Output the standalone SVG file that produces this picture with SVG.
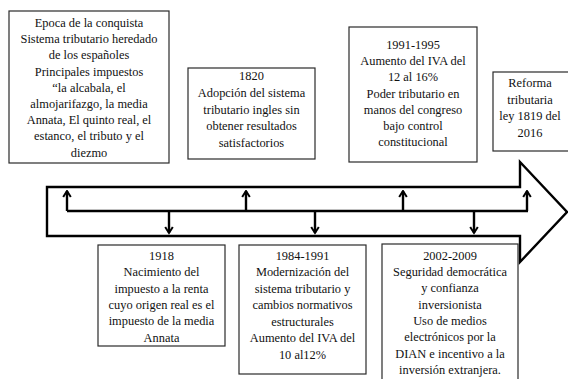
<svg xmlns="http://www.w3.org/2000/svg" width="568" height="379" viewBox="0 0 568 379">
<style>
.box{fill:#fff;stroke:#2a2a2a;stroke-width:1.2}
.t{font-family:'Liberation Serif','Times New Roman','DejaVu Serif',serif;font-size:12.4px;fill:#111;text-anchor:middle}
.conn{fill:none;stroke:#000;stroke-width:2.4}
.big{fill:#fff;stroke:#000;stroke-width:2.4;stroke-linejoin:miter}
</style>
<defs>
<marker id="ah" viewBox="0 0 10 10" refX="8.5" refY="5" markerWidth="10" markerHeight="10" markerUnits="userSpaceOnUse" orient="auto">
<path d="M2.5,1.2 L8.5,5 L2.5,8.8" fill="none" stroke="#000" stroke-width="2"/>
</marker>
</defs>
<rect width="568" height="379" fill="#fff"/>
<g id="timeline-arrow">
<path class="big" d="M47,187 L520,187 L520,162 L567,212 L520,262 L520,236 L47,236 Z"/>
</g>
<g id="connectors">
<path class="conn" d="M67,211 L528,211"/>
<path class="conn" d="M67,211 L67,191" marker-end="url(#ah)"/>
<path class="conn" d="M246,211 L246,191" marker-end="url(#ah)"/>
<path class="conn" d="M403,211 L403,191" marker-end="url(#ah)"/>
<path class="conn" d="M527,211 L527,191" marker-end="url(#ah)"/>
<path class="conn" d="M169,211 L169,233" marker-end="url(#ah)"/>
<path class="conn" d="M315,211 L315,233" marker-end="url(#ah)"/>
<path class="conn" d="M474,211 L474,233" marker-end="url(#ah)"/>
</g>
<g id="n-conquista" class="t" font-family="Liberation Serif, serif">
<rect class="box" x="9" y="11" width="160" height="152"/>
<text x="89" y="27">Epoca de la conquista</text>
<text x="89" y="43.2">Sistema tributario heredado</text>
<text x="89" y="59.4">de los españoles</text>
<text x="89" y="75.6">Principales impuestos</text>
<text x="89" y="91.8">“la alcabala, el</text>
<text x="89" y="108">almojarifazgo, la media</text>
<text x="89" y="124.2">Annata, El quinto real, el</text>
<text x="89" y="140.4">estanco, el tributo y el</text>
<text x="89" y="156.6">diezmo</text>
</g>
<g id="n-1820" class="t" font-family="Liberation Serif, serif">
<rect class="box" x="188" y="68" width="127" height="91"/>
<text x="251.5" y="80">1820</text>
<text x="251.5" y="96.8">Adopción del sistema</text>
<text x="251.5" y="113.6">tributario ingles sin</text>
<text x="251.5" y="130.4">obtener resultados</text>
<text x="251.5" y="147.2">satisfactorios</text>
</g>
<g id="n-1991" class="t" font-family="Liberation Serif, serif">
<rect class="box" x="349" y="27" width="128" height="135"/>
<text x="413" y="49">1991-1995</text>
<text x="413" y="65.2">Aumento del IVA del</text>
<text x="413" y="81.4">12 al 16%</text>
<text x="413" y="97.6">Poder tributario en</text>
<text x="413" y="113.8">manos del congreso</text>
<text x="413" y="130">bajo control</text>
<text x="413" y="146.2">constitucional</text>
</g>
<g id="n-2016" class="t" font-family="Liberation Serif, serif">
<rect class="box" x="493" y="72" width="80" height="79"/>
<text x="530" y="87">Reforma</text>
<text x="530" y="103.5">tributaria</text>
<text x="530" y="120">ley 1819 del</text>
<text x="530" y="136.5">2016</text>
</g>
<g id="n-1918" class="t" font-family="Liberation Serif, serif">
<rect class="box" x="98" y="245" width="127" height="101"/>
<text x="161.5" y="260">1918</text>
<text x="161.5" y="276.3">Nacimiento del</text>
<text x="161.5" y="292.6">impuesto a la renta</text>
<text x="161.5" y="308.9">cuyo origen real es el</text>
<text x="161.5" y="325.2">impuesto de la media</text>
<text x="161.5" y="341.5">Annata</text>
</g>
<g id="n-1984" class="t" font-family="Liberation Serif, serif">
<rect class="box" x="239" y="245" width="127" height="129"/>
<text x="302.5" y="259.5">1984-1991</text>
<text x="302.5" y="276">Modernización del</text>
<text x="302.5" y="292.5">sistema tributario y</text>
<text x="302.5" y="309">cambios normativos</text>
<text x="302.5" y="325.5">estructurales</text>
<text x="302.5" y="342">Aumento del IVA del</text>
<text x="302.5" y="358.5">10 al12%</text>
</g>
<g id="n-2002" class="t" font-family="Liberation Serif, serif">
<rect class="box" x="382" y="244" width="136" height="145"/>
<text x="450" y="259.5">2002-2009</text>
<text x="450" y="276">Seguridad democrática</text>
<text x="450" y="292.3">y confianza</text>
<text x="450" y="308.6">inversionista</text>
<text x="450" y="324.9">Uso de medios</text>
<text x="450" y="341.2">electrónicos por la</text>
<text x="450" y="357.5">DIAN e incentivo a la</text>
<text x="450" y="373.8">inversión extranjera.</text>
</g>
</svg>
